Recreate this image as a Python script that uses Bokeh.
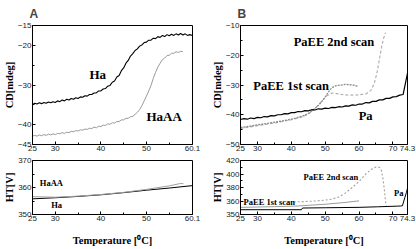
from bokeh.plotting import figure
from bokeh.layouts import row, column
from bokeh.models import FixedTicker, Label, Range1d
from bokeh.embed import file_html
from bokeh.resources import INLINE

# ---------------- data ----------------
# Panel A, CD (top)
ha_t = [25.0, 25.5, 26.0, 26.5, 27.0, 27.5, 28.0, 28.5, 29.0, 29.5, 30.0, 30.5, 31.0, 31.5, 32.0, 32.5,
        33.0, 33.5, 34.0, 34.5, 35.0, 35.5, 36.0, 36.5, 37.0, 37.5, 38.0, 38.5, 39.0, 39.5, 40.0, 40.5,
        41.0, 41.5, 42.0, 42.5, 43.0, 43.5, 44.0, 44.5, 45.0, 45.5, 46.0, 46.5, 47.0, 47.5, 48.0, 48.5,
        49.0, 49.5, 50.0, 50.5, 51.0, 51.5, 52.0, 52.5, 53.0, 53.5, 54.0, 54.5, 55.0, 55.5, 56.0, 56.5,
        57.0, 57.5, 58.0, 58.5, 59.0, 59.5, 60.1]
ha_cd = [-34.9, -34.6, -34.8, -34.5, -34.7, -34.4, -34.6, -34.3, -34.5, -34.2, -34.4, -34.0, -34.2, -33.8, -34.0, -33.6,
         -33.8, -33.4, -33.6, -33.2, -33.4, -33.0, -33.1, -32.7, -32.8, -32.4, -32.4, -32.0, -32.0, -31.5, -31.5, -31.0,
         -30.9, -30.3, -30.1, -29.3, -29.0, -28.0, -27.6, -26.4, -25.7, -24.5, -23.8, -22.7, -22.1, -21.3, -20.9, -20.2,
         -19.9, -19.3, -19.2, -18.7, -18.7, -18.2, -18.3, -17.8, -18.0, -17.5, -17.8, -17.3, -17.6, -17.2, -17.5, -17.1,
         -17.4, -17.0, -17.4, -17.1, -17.5, -17.3, -17.5]
haaa_t = [25.0, 25.5, 26.0, 26.5, 27.0, 27.5, 28.0, 28.5, 29.0, 29.5, 30.0, 30.5, 31.0, 31.5, 32.0, 32.5,
          33.0, 33.5, 34.0, 34.5, 35.0, 35.5, 36.0, 36.5, 37.0, 37.5, 38.0, 38.5, 39.0, 39.5, 40.0, 40.5,
          41.0, 41.5, 42.0, 42.5, 43.0, 43.5, 44.0, 44.5, 45.0, 45.5, 46.0, 46.5, 47.0, 47.5, 48.0, 48.5,
          49.0, 49.5, 50.0, 50.5, 51.0, 51.5, 52.0, 52.5, 53.0, 53.5, 54.0, 54.5, 55.0, 55.5, 56.0, 56.5,
          57.0, 57.5, 58.0]
haaa_cd = [-42.9, -42.7, -42.9, -42.6, -42.8, -42.5, -42.7, -42.4, -42.6, -42.3, -42.5, -42.2, -42.3, -42.0, -42.2, -41.9,
           -42.0, -41.7, -41.8, -41.5, -41.6, -41.3, -41.4, -41.1, -41.2, -40.9, -41.0, -40.6, -40.8, -40.4, -40.5, -40.1,
           -40.2, -39.8, -39.9, -39.5, -39.6, -39.2, -39.2, -38.8, -38.8, -38.4, -38.4, -38.0, -37.9, -37.4, -36.9, -36.2,
           -35.2, -34.0, -32.8, -31.5, -30.1, -28.3, -26.8, -25.5, -24.5, -23.6, -23.2, -22.6, -22.5, -22.0, -22.0, -21.6,
           -21.8, -21.5, -21.6]

# Panel A, HT (bottom)
ha_ht_t = [25, 30, 35, 40, 45, 50, 55, 60.1]
ha_ht = [355.8, 356.2, 356.7, 357.3, 358.1, 359.0, 359.8, 360.7]
haaa_ht_t = [25, 28, 30, 35, 40, 45, 50, 55, 57.5, 58.1]
haaa_ht = [356.6, 356.5, 356.4, 356.8, 357.4, 358.2, 359.3, 360.6, 361.5, 361.4]

# Panel B, CD (top)
pa_t = [25, 26, 27, 28, 29, 30, 31, 32, 33, 34, 35, 36, 37, 38, 39, 40, 41, 42, 43, 44, 45, 46, 47, 48, 49,
        50, 51, 52, 53, 54, 55, 56, 57, 58, 59, 60, 61, 62, 63, 64, 65, 66, 67, 68, 69, 70, 71, 72, 73, 74.3]
pa_cd = [-41.6, -41.3, -41.5, -41.1, -41.3, -40.9, -41.0, -40.6, -40.7, -40.3, -40.4, -40.0, -40.0, -39.6, -39.7,
         -39.3, -39.3, -38.9, -39.0, -38.6, -38.7, -38.3, -38.4, -38.0, -38.1, -37.8, -37.9, -37.5, -37.6, -37.3,
         -37.4, -37.0, -37.1, -36.7, -36.8, -36.4, -36.4, -35.9, -36.0, -35.5, -35.5, -35.0, -35.0, -34.5, -34.5,
         -34.0, -33.9, -33.4, -33.2, -26.0]
paee1_t = [25, 28, 30, 33, 37.3, 40, 43.2, 45, 46.2, 47.3, 48.2, 49.2, 50.1, 50.8, 51.5, 52.2, 53, 54, 55, 56, 57, 58, 58.8, 59.6]
paee1_cd = [-44.3, -43.8, -43.4, -42.9, -42.1, -41.5, -40.5, -39.6, -38.6, -37.6, -36.6, -35.3, -33.9, -32.6, -31.5,
            -30.8, -30.3, -30.1, -30.0, -29.8, -29.9, -30.0, -30.1, -30.5]
paee2_t = [25, 30, 35, 40, 43, 45, 47, 49, 50.5, 52, 53.5, 55.5, 58, 60, 62, 63.5, 64.5, 65.3, 66, 66.6, 67.2, 67.8]
paee2_cd = [-44.6, -43.7, -42.8, -41.7, -40.8, -39.8, -37.9, -35.4, -33.6, -32.7, -32.9, -33.3, -33.4, -33.3, -33.0,
            -31.8, -29.5, -25.8, -21.5, -17.5, -14.5, -12.4]

# Panel B, HT (bottom)
pa_ht_t = [25, 43, 43.3, 50, 60, 65.4, 71.4, 72.2, 72.8, 73.5, 74.0, 74.3]
pa_ht = [347.1, 347.1, 349.6, 350.0, 350.6, 351.4, 352.4, 352.6, 352.9, 364.8, 372.9, 379.0]
paee1_ht_t = [25, 35, 42, 50, 55, 60]
paee1_ht = [350.6, 351.6, 352.6, 355.2, 357.4, 360.2]
paee2_ht_t = [40.7, 44, 47, 50, 52, 54, 56, 58, 60, 62, 63.5, 65, 66, 66.6, 67.1, 67.5, 67.8, 68.0]
paee2_ht = [358.6, 359.2, 360.0, 361.3, 362.8, 366.0, 372.0, 380.0, 389.0, 400.0, 406.5, 410.5, 410.0, 405.0,
            392.0, 375.0, 360.0, 353.0]

# tick labels
a_xticks = [25, 30, 40, 50, 60.1]
a_xminor = [35, 45, 55]
b_xticks = [25, 30, 40, 50, 60, 70, 74.3]
b_xminor = [35, 45, 55, 65]
a_cd_ticks = [-45, -40, -30, -20, -15]
a_cd_minor = [-35, -25]
a_ht_ticks = [350, 360, 370]
a_ht_minor = [355, 365]
b_cd_ticks = [-50, -40, -30, -20, -10]
b_cd_minor = [-45, -35, -25, -15]
b_ht_ticks = [340, 360, 380, 400, 420]
b_ht_minor = [370, 390, 410]
b_ht_labels = {340: "350"}

x_title = "Temperature [\u2070C]"

SERIF = "Liberation Serif"
SANS = "Liberation Sans"


def make_fig(w, h, xr, yr, bl, br, bt, bb, xt, xm, yt, ym):
    p = figure(width=w, height=h, x_range=Range1d(*xr), y_range=Range1d(*yr),
               output_backend="svg", toolbar_location=None,
               min_border_left=bl, min_border_right=br, min_border_top=bt, min_border_bottom=bb)
    p.grid.visible = False
    p.outline_line_color = "black"
    p.outline_line_alpha = 1.0
    p.outline_line_width = 1
    p.background_fill_color = "white"
    p.border_fill_color = "white"
    p.xaxis.ticker = FixedTicker(ticks=xt, minor_ticks=xm)
    p.yaxis.ticker = FixedTicker(ticks=yt, minor_ticks=ym)
    for ax in p.axis:
        ax.axis_line_color = "black"
        ax.major_tick_in = 3
        ax.major_tick_out = 0
        ax.minor_tick_in = 2
        ax.minor_tick_out = 0
        ax.major_tick_line_color = "black"
        ax.minor_tick_line_color = "black"
        ax.major_label_text_font = SANS
        ax.major_label_text_font_size = "8px"
        ax.major_label_text_color = "#222222"
        ax.major_label_standoff = 1
        ax.axis_label_text_font = SERIF
        ax.axis_label_text_font_style = "bold"
        ax.axis_label_text_font_size = "10.5px"
        ax.axis_label_text_color = "black"
        ax.axis_label_standoff = 0
    return p


def add_label(p, x, y, text, size):
    p.add_layout(Label(x=x, y=y, text=text, text_font=SERIF, text_font_style="bold",
                       text_font_size=size, text_baseline="middle", text_align="left",
                       text_color="black"))


def set_title(p, text):
    p.title.text = text
    p.title.align = "left"
    p.title.text_font = SANS
    p.title.text_font_style = "bold"
    p.title.text_font_size = "12px"
    p.title.offset = -3
    p.title.standoff = 9


def set_xtitle(p):
    p.xaxis.axis_label = x_title
    p.xaxis.axis_label_standoff = 11
    p.xaxis.axis_label_text_font_size = "10.5px"


# ---- A top ----
a1 = make_fig(208, 155, (25, 60.1), (-45, -15), 26, 16, 23, 11, a_xticks, a_xminor, a_cd_ticks, a_cd_minor)
set_title(a1, "A")
a1.yaxis.axis_label = "CD[mdeg]"
a1.line(ha_t, ha_cd, line_color="black", line_width=1.1)
a1.line(haaa_t, haaa_cd, line_color="#9a9a9a", line_width=1.0)
add_label(a1, 37.5, -27.4, "Ha", "13px")
add_label(a1, 50.0, -38.0, "HaAA", "13px")

# ---- A bottom ----
a2 = make_fig(208, 94, (25, 60.1), (350, 370), 26, 16, 5, 35, a_xticks, a_xminor, a_ht_ticks, a_ht_minor)
a2.yaxis.axis_label = "HT[V]"
set_xtitle(a2)
a2.line(ha_ht_t, ha_ht, line_color="black", line_width=1.0)
a2.line(haaa_ht_t, haaa_ht, line_color="#a0a0a0", line_width=1.0)
add_label(a2, 26.6, 361.5, "HaAA", "8.5px")
add_label(a2, 29.1, 353.7, "Ha", "8.5px")

# ---- B top ----
b1 = make_fig(208, 155, (25, 74.3), (-50, -10), 32, 9, 23, 11, b_xticks, b_xminor, b_cd_ticks, b_cd_minor)
set_title(b1, "B")
b1.yaxis.axis_label = "CD[mdeg]"
b1.line(paee2_t, paee2_cd, line_color="#ababab", line_width=1.1, line_dash="3 2")
b1.line(paee1_t, paee1_cd, line_color="#8c8c8c", line_width=1.3, line_dash="2 1")
b1.line(pa_t, pa_cd, line_color="black", line_width=1.2)
add_label(b1, 40.7, -15.5, "PaEE 2nd scan", "12.5px")
add_label(b1, 28.8, -30.2, "PaEE 1st scan", "12.5px")
add_label(b1, 59.9, -40.3, "Pa", "12.5px")

# ---- B bottom ----
b2 = make_fig(208, 94, (25, 74.3), (340, 420), 32, 9, 5, 35, b_xticks, b_xminor, b_ht_ticks, b_ht_minor)
b2.yaxis.major_label_overrides = b_ht_labels
b2.yaxis.axis_label = "HT[V]"
set_xtitle(b2)
b2.line(paee2_ht_t, paee2_ht, line_color="#a0a0a0", line_width=1.1, line_dash="2 2")
b2.line(paee1_ht_t, paee1_ht, line_color="#9a9a9a", line_width=1.0)
b2.line(pa_ht_t, pa_ht, line_color="black", line_width=1.0)
add_label(b2, 43.6, 395.7, "PaEE 2nd scan", "8.5px")
add_label(b2, 25.9, 358.6, "PaEE 1st scan", "8.5px")
add_label(b2, 70.3, 371.4, "Pa", "8.5px")

layout = row(column(a1, a2), column(b1, b2))

with open("out.html", "w") as f:
    f.write(file_html(layout, INLINE))
